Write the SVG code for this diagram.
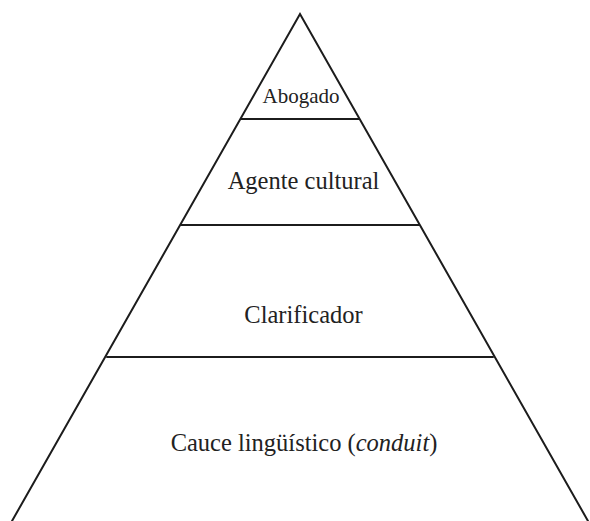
<svg xmlns="http://www.w3.org/2000/svg" width="590" height="521" viewBox="0 0 590 521">
  <style>
    .edge { stroke: #1c1c1c; stroke-width: 2; fill: none; stroke-linecap: round; }
    .lbl { font-family: 'Liberation Serif', 'DejaVu Serif', serif; fill: #222; text-anchor: middle; }
  </style>
  <rect width="590" height="521" fill="#fff"/>
  <g id="connectors">
    <!-- pyramid outline -->
    <path class="edge" d="M12,521 L300,14 L588,521"/>
    <!-- tier dividers -->
    <line class="edge" x1="241" y1="119" x2="359" y2="119"/>
    <line class="edge" x1="181" y1="225" x2="419" y2="225"/>
    <line class="edge" x1="107" y1="357" x2="493" y2="357"/>
  </g>
  <g id="tier-abogado">
    <text class="lbl" x="301" y="103" font-size="21">Abogado</text>
  </g>
  <g id="tier-agente">
    <text class="lbl" x="303.5" y="189" font-size="24.5">Agente cultural</text>
  </g>
  <g id="tier-clarificador">
    <text class="lbl" x="303.5" y="323" font-size="24.5">Clarificador</text>
  </g>
  <g id="tier-cauce">
    <text class="lbl" x="304" y="451" font-size="24.5">Cauce lingüístico (<tspan font-style="italic">conduit</tspan>)</text>
  </g>
</svg>
